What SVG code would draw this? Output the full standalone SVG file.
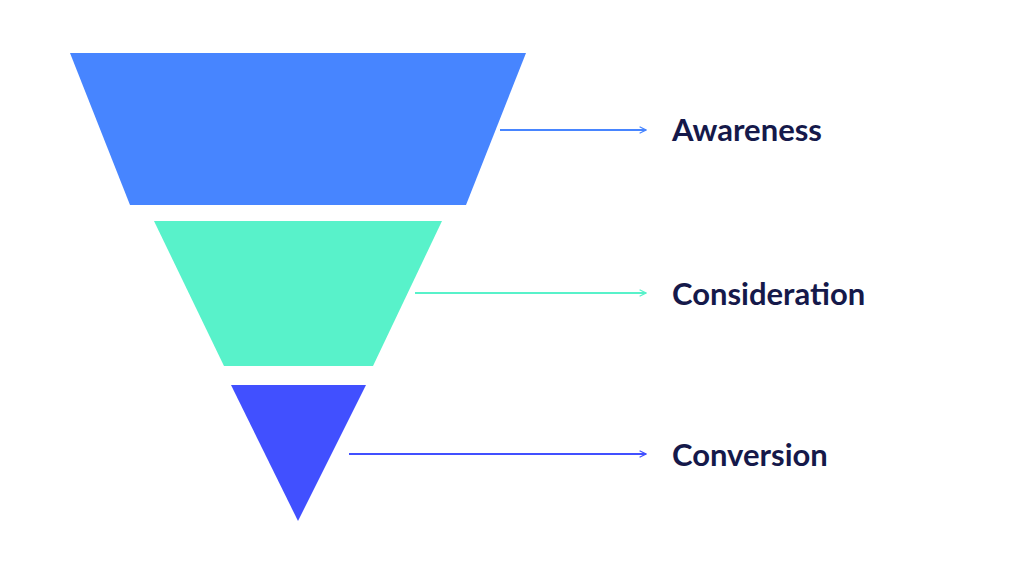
<svg xmlns="http://www.w3.org/2000/svg" width="1024" height="576" viewBox="0 0 1024 576">
<defs>
<marker id="a1" viewBox="0 0 10 10" refX="9" refY="5" markerWidth="8" markerHeight="8" markerUnits="userSpaceOnUse" orient="auto"><path d="M1,1 L9,5 L1,9" fill="none" stroke="#4785FF" stroke-width="1.6"/></marker>
<marker id="a2" viewBox="0 0 10 10" refX="9" refY="5" markerWidth="8" markerHeight="8" markerUnits="userSpaceOnUse" orient="auto"><path d="M1,1 L9,5 L1,9" fill="none" stroke="#58F2CA" stroke-width="1.6"/></marker>
<marker id="a3" viewBox="0 0 10 10" refX="9" refY="5" markerWidth="8" markerHeight="8" markerUnits="userSpaceOnUse" orient="auto"><path d="M1,1 L9,5 L1,9" fill="none" stroke="#4150FF" stroke-width="1.6"/></marker>
</defs>
<style>
text{font-family:"Lato","Liberation Sans",sans-serif;font-weight:700;font-size:31px;fill:#15194a}
line{stroke-width:2}
</style>
<rect width="1024" height="576" fill="#fff"/>
<g id="awareness"><polygon points="70,53 526,53 466,205 130,205" fill="#4785FF"/><text x="672" y="141">Awareness</text></g>
<g id="consideration"><polygon points="154,221 442,221 373,366 224,366" fill="#58F2CA"/><text x="672" y="305">Consideration</text></g>
<g id="conversion"><polygon points="231,385 366,385 298,521" fill="#4150FF"/><text x="672" y="466">Conversion</text></g>
<g id="connectors">
<line x1="500" y1="130" x2="646" y2="130" stroke="#4785FF" marker-end="url(#a1)"/>
<line x1="415" y1="293" x2="646" y2="293" stroke="#58F2CA" marker-end="url(#a2)"/>
<line x1="349" y1="454" x2="646" y2="454" stroke="#4150FF" marker-end="url(#a3)"/>
</g>
</svg>
